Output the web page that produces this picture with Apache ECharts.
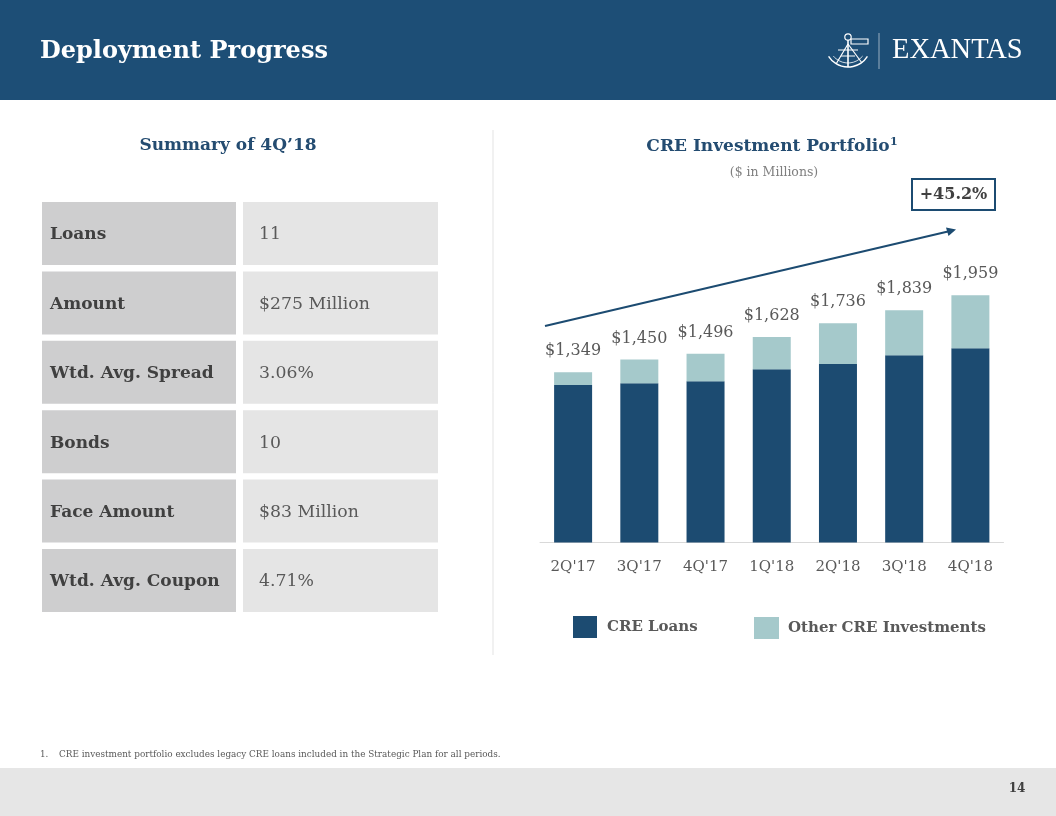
<!DOCTYPE html>
<html><head><meta charset="utf-8">
<script src="https://cdn.jsdelivr.net/npm/echarts@6/dist/echarts.min.js"></script>
<style>html,body{margin:0;padding:0;background:#fff}#c{width:1056px;height:816px}</style>
</head><body><div id="c"></div><script>
const categories = ["2Q'17","3Q'17","4Q'17","1Q'18","2Q'18","3Q'18","4Q'18"];
const creLoans = [1247,1262,1278,1373,1413,1484,1539];
const otherCre = [102,188,218,255,323,355,420];
const tableLabels = ['Loans','Amount','Wtd. Avg. Spread','Bonds','Face Amount','Wtd. Avg. Coupon'];
const tableValues = ['11','$275 Million','3.06%','10','$83 Million','4.71%'];
const growthLabel = '+45.2%';

const SERIF = "'DejaVu Serif', 'Liberation Serif', serif";
const DARK = '#1c4b71';
const LIGHT = '#a5c9cb';
const HEAD = '#1d4e76';

const chart = echarts.init(document.getElementById('c'), null, {renderer: 'canvas'});

function txt(x, y, text, fill, font, align) {
  return {type:'text', x:x, y:y, silent:true,
    style:{text:text, fill:fill, font:font, align:align || 'left', verticalAlign:'middle'}};
}

const g = [];
// header
g.push({type:'rect', shape:{x:0,y:0,width:1056,height:100}, style:{fill:HEAD}, silent:true});
g.push(txt(40, 52, 'Deployment Progress', '#fff', "bold 24px " + SERIF));
// logo
g.push({type:'line', shape:{x1:879,y1:33,x2:879,y2:69}, style:{stroke:'rgba(255,255,255,0.55)', lineWidth:1}});
g.push(txt(892, 51, 'EXANTAS', '#fff', "28.5px 'Liberation Serif', serif"));
g.push({type:'circle', shape:{cx:848,cy:37,r:3.2}, style:{fill:'none', stroke:'#fff', lineWidth:1.2}});
g.push({type:'line', shape:{x1:848,y1:40,x2:848,y2:67}, style:{stroke:'#fff', lineWidth:1.6}});
g.push({type:'rect', shape:{x:851,y:39,width:17,height:5}, style:{fill:'none', stroke:'#fff', lineWidth:1.2}});
g.push({type:'line', shape:{x1:848,y1:44,x2:836,y2:64}, style:{stroke:'#fff', lineWidth:1.2}});
g.push({type:'line', shape:{x1:848,y1:44,x2:862,y2:63}, style:{stroke:'#fff', lineWidth:1.2}});
g.push({type:'line', shape:{x1:838,y1:50,x2:858,y2:50}, style:{stroke:'#fff', lineWidth:1}});
g.push({type:'line', shape:{x1:841,y1:56,x2:855,y2:56}, style:{stroke:'#fff', lineWidth:1}});
g.push({type:'arc', shape:{cx:848,cy:44,r:23,startAngle:Math.PI*0.18,endAngle:Math.PI*0.82}, style:{fill:'none', stroke:'#fff', lineWidth:1.4}});
g.push({type:'arc', shape:{cx:848,cy:44,r:19,startAngle:Math.PI*0.22,endAngle:Math.PI*0.78}, style:{fill:'none', stroke:'#fff', lineWidth:0.8}});
// section titles
g.push(txt(228, 146, 'Summary of 4Q\u201918', '#244c71', "bold 17px " + SERIF, 'center'));
g.push(txt(768, 147, 'CRE Investment Portfolio', '#244c71', "bold 17px " + SERIF, 'center'));
g.push(txt(890, 142, '1', '#244c71', "bold 11px " + SERIF));
g.push(txt(774, 173, '($ in Millions)', '#7f7f7f', "12.5px " + SERIF, 'center'));
// divider
g.push({type:'line', shape:{x1:493,y1:130,x2:493,y2:655}, style:{stroke:'#e3e3e3', lineWidth:1}});
// table
tableLabels.forEach((lab, i) => {
  const y = 202 + i * 69.4;
  g.push({type:'rect', shape:{x:42,y:y,width:194,height:63}, style:{fill:'#cececf'}, silent:true});
  g.push({type:'rect', shape:{x:243,y:y,width:195,height:63}, style:{fill:'#e5e5e5'}, silent:true});
  g.push(txt(50, y + 33, lab, '#404040', "bold 17px " + SERIF));
  g.push(txt(259, y + 33, tableValues[i], '#595959', "17.3px " + SERIF));
});
// growth arrow
g.push({type:'line', shape:{x1:545,y1:326,x2:948,y2:231.5}, style:{stroke:DARK, lineWidth:2}});
g.push({type:'polygon', shape:{points:[[956,229.5],[946,227.5],[948.5,236]]}, style:{fill:DARK}});
// growth box
g.push({type:'rect', shape:{x:912,y:179,width:83,height:31}, style:{fill:'#fff', stroke:DARK, lineWidth:2}});
g.push(txt(953.5, 195, growthLabel, '#404040', "bold 16px " + SERIF, 'center'));
// footnote
g.push(txt(40, 755, '1.', '#595959', "8.8px " + SERIF));
g.push(txt(59, 755, 'CRE investment portfolio excludes legacy CRE loans included in the Strategic Plan for all periods.', '#595959', "8.85px " + SERIF));
// footer
g.push({type:'rect', shape:{x:0,y:768,width:1056,height:48}, style:{fill:'#e6e6e6'}, silent:true});
g.push(txt(1017, 789, '14', '#404040', "bold 12px " + SERIF, 'center'));

const option = {
  animation: false,
  backgroundColor: '#fff',
  grid: {left: 540, right: 52.5, top: 290, bottom: 273.5},
  xAxis: {
    type: 'category', data: categories,
    axisLine: {lineStyle: {color: '#d9d9d9', width: 1}},
    axisTick: {show: false},
    axisLabel: {color: '#595959', fontFamily: SERIF, fontSize: 15, margin: 17}
  },
  yAxis: {type: 'value', min: 0, max: 2000, show: false, splitLine: {show: false}},
  legend: [
    {data: ['CRE Loans'], left: 573, top: 616, padding: 0, icon: 'rect', itemWidth: 24, itemHeight: 22, itemGap: 10,
     textStyle: {color: '#595959', fontFamily: SERIF, fontWeight: 'bold', fontSize: 15, padding: [0,0,0,5]}},
    {data: ['Other CRE Investments'], left: 754, top: 617, padding: 0, icon: 'rect', itemWidth: 25, itemHeight: 22, itemGap: 10,
     textStyle: {color: '#595959', fontFamily: SERIF, fontWeight: 'bold', fontSize: 15, padding: [0,0,0,4]}}
  ],
  series: [
    {name: 'CRE Loans', type: 'bar', stack: 'p', data: creLoans, barWidth: 38, itemStyle: {color: DARK}},
    {name: 'Other CRE Investments', type: 'bar', stack: 'p', data: otherCre, barWidth: 38, itemStyle: {color: LIGHT},
     label: {show: true, position: 'top', distance: 13, color: '#595959', fontFamily: SERIF, fontSize: 16,
       formatter: p => '$' + (creLoans[p.dataIndex] + otherCre[p.dataIndex]).toLocaleString('en-US')}}
  ],
  graphic: g
};
chart.setOption(option);
</script></body></html>
